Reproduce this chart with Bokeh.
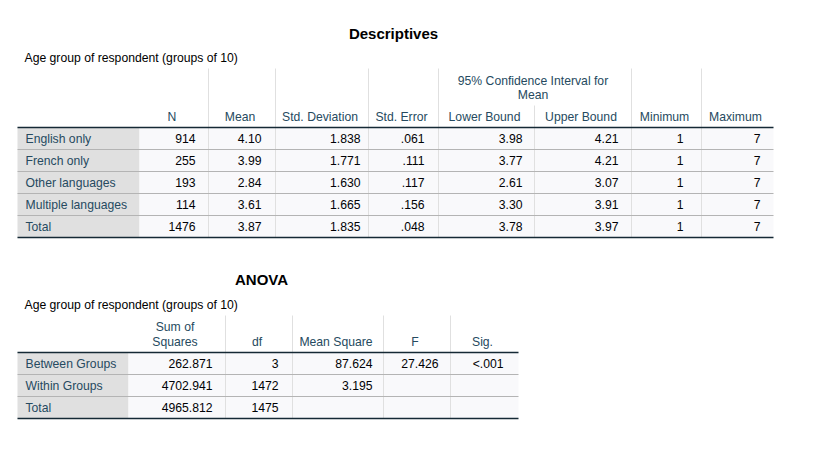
from bokeh.plotting import figure
from bokeh.models import Range1d
from bokeh.core.properties import value
from bokeh.embed import file_html
from bokeh.resources import INLINE

# ---------------- data ----------------
desc_title = "Descriptives"
anova_title = "ANOVA"
caption = "Age group of respondent (groups of 10)"

groups = ["English only", "French only", "Other languages", "Multiple languages", "Total"]
n_vals = [914, 255, 193, 114, 1476]
mean_vals = [4.10, 3.99, 2.84, 3.61, 3.87]
sd_vals = [1.838, 1.771, 1.630, 1.665, 1.835]
se_vals = [0.061, 0.111, 0.117, 0.156, 0.048]
lower_vals = [3.98, 3.77, 2.61, 3.30, 3.78]
upper_vals = [4.21, 4.21, 3.07, 3.91, 3.97]
min_vals = [1, 1, 1, 1, 1]
max_vals = [7, 7, 7, 7, 7]

desc_headers = ["N", "Mean", "Std. Deviation", "Std. Error", "Lower Bound",
                "Upper Bound", "Minimum", "Maximum"]
ci_header = ["95% Confidence Interval for", "Mean"]

sources = ["Between Groups", "Within Groups", "Total"]
ss_vals = [262.871, 4702.941, 4965.812]
df_vals = [3, 1472, 1475]
ms_vals = [87.624, 3.195, None]
f_vals = [27.426, None, None]
sig_vals = ["<.001", "", ""]
anova_headers = [["Sum of", "Squares"], ["df"], ["Mean Square"], ["F"], ["Sig."]]


def fmt(v, d):
    if v is None:
        return ""
    s = f"{v:.{d}f}"
    if s.startswith("0."):
        s = s[1:]
    return s


# ---------------- styles / layout ----------------
FONT = value("Liberation Sans")
FS = "12.2px"
HEAD_C = "#264A60"
DATA_C = "#010205"
LABEL_BG = "#E0E0E0"
CELL_BG = "#F9F9FB"
SEP_C = "#B4B4B4"
VLINE_C = "#E0E0E0"
DARK_C = "#152935"
RH = 22

W, H = 816, 435
p = figure(width=W, height=H, x_range=Range1d(0, W), y_range=Range1d(H, 0),
           output_backend="svg", toolbar_location=None, min_border=0,
           x_axis_location=None, y_axis_location=None)
p.xgrid.visible = False
p.ygrid.visible = False
p.outline_line_color = None
p.background_fill_color = "white"
p.border_fill_color = "white"


def txt(xs, ys, texts, align="left", color=DATA_C, size=FS, style="normal"):
    p.text(x=xs, y=ys, text=texts, text_align=align, text_baseline="middle",
           text_font=FONT, text_font_size=size, text_color=color, text_font_style=style)


# ---------------- Descriptives ----------------
D_COLS = [17, 139, 208, 275, 368, 438, 534, 631, 701, 773]
D_TOP = 127
d_values = [
    [str(v) for v in n_vals],
    [fmt(v, 2) for v in mean_vals],
    [fmt(v, 3) for v in sd_vals],
    [fmt(v, 3) for v in se_vals],
    [fmt(v, 2) for v in lower_vals],
    [fmt(v, 2) for v in upper_vals],
    [str(v) for v in min_vals],
    [str(v) for v in max_vals],
]
d_right = [195, 261, 360, 424, 522, 618, 683, 760]


def draw_desc():
    nrows = len(groups)
    top = D_TOP
    bottom = top + RH * nrows
    txt([393], [33], [desc_title], align="center", color="#000000", size="15px", style="bold")
    txt([24], [57], [caption], color="#000000")
    tops = [top + i * RH for i in range(nrows)]
    bots = [top + (i + 1) * RH for i in range(nrows)]
    p.quad(left=[D_COLS[0]] * nrows, right=[D_COLS[1]] * nrows, top=tops, bottom=bots,
           fill_color=LABEL_BG, line_color=None)
    p.quad(left=[D_COLS[1]] * nrows, right=[D_COLS[-1]] * nrows, top=tops, bottom=bots,
           fill_color=CELL_BG, line_color=None)
    hx = [c for c in D_COLS[2:-1] if c != D_COLS[6]]
    p.segment(x0=hx, y0=[68] * len(hx), x1=hx, y1=[bottom] * len(hx), line_color=VLINE_C, line_width=1)
    # split between Lower / Upper bound under the spanning CI header
    p.segment(x0=[D_COLS[6]], y0=[105], x1=[D_COLS[6]], y1=[bottom], line_color=VLINE_C, line_width=1)
    cx = (D_COLS[5] + D_COLS[7]) / 2 - 2
    txt([cx, cx], [80, 94], ci_header, align="center", color=HEAD_C)
    ys = [top + i * RH for i in range(1, nrows)]
    p.segment(x0=[D_COLS[0]] * len(ys), y0=ys, x1=[D_COLS[-1]] * len(ys), y1=ys, line_color=SEP_C, line_width=1)
    p.segment(x0=[D_COLS[0]] * 2, y0=[top, bottom], x1=[D_COLS[-1]] * 2, y1=[top, bottom],
              line_color=DARK_C, line_width=1.5)
    mids = [top + RH * (i + 0.5) for i in range(nrows)]
    txt([25] * nrows, mids, groups, color=HEAD_C)
    for j, vals in enumerate(d_values):
        txt([d_right[j]] * nrows, mids, vals, align="right")
    for j, h in enumerate(desc_headers):
        cx = (D_COLS[j + 1] + D_COLS[j + 2]) / 2 - 2
        txt([cx], [116], [h], align="center", color=HEAD_C)


draw_desc()

# ---------------- ANOVA ----------------
A_COLS = [17, 128, 225, 292, 383, 450, 518]
A_TOP = 352


def draw_anova():
    nrows = len(sources)
    top = A_TOP
    bottom = top + RH * nrows
    txt([261], [279], [anova_title], align="center", color="#000000", size="15px", style="bold")
    txt([24], [304], [caption], color="#000000")
    tops = [top + i * RH for i in range(nrows)]
    bots = [top + (i + 1) * RH for i in range(nrows)]
    p.quad(left=[A_COLS[0]] * nrows, right=[A_COLS[1]] * nrows, top=tops, bottom=bots,
           fill_color=LABEL_BG, line_color=None)
    p.quad(left=[A_COLS[1]] * nrows, right=[A_COLS[-1]] * nrows, top=tops, bottom=bots,
           fill_color=CELL_BG, line_color=None)
    hx = A_COLS[2:-1]
    p.segment(x0=hx, y0=[315] * len(hx), x1=hx, y1=[bottom] * len(hx), line_color=VLINE_C, line_width=1)
    ys = [top + i * RH for i in range(1, nrows)]
    p.segment(x0=[A_COLS[0]] * len(ys), y0=ys, x1=[A_COLS[-1]] * len(ys), y1=ys, line_color=SEP_C, line_width=1)
    p.segment(x0=[A_COLS[0]] * 2, y0=[top, bottom], x1=[A_COLS[-1]] * 2, y1=[top, bottom],
              line_color=DARK_C, line_width=1.5)
    mids = [top + RH * (i + 0.5) for i in range(nrows)]
    txt([25] * nrows, mids, sources, color=HEAD_C)
    a_values = [
        [fmt(v, 3) for v in ss_vals],
        [str(v) for v in df_vals],
        [fmt(v, 3) for v in ms_vals],
        [fmt(v, 3) for v in f_vals],
        sig_vals,
    ]
    a_right = [212, 278, 372, 438, 503]
    for j, vals in enumerate(a_values):
        txt([a_right[j]] * nrows, mids, vals, align="right")
    for j, h in enumerate(anova_headers):
        cx = (A_COLS[j + 1] + A_COLS[j + 2]) / 2 - 2
        if len(h) == 1:
            txt([cx], [341], h, align="center", color=HEAD_C)
        else:
            txt([cx, cx], [326, 341], h, align="center", color=HEAD_C)


draw_anova()

open("out.html", "w").write(file_html(p, INLINE))
